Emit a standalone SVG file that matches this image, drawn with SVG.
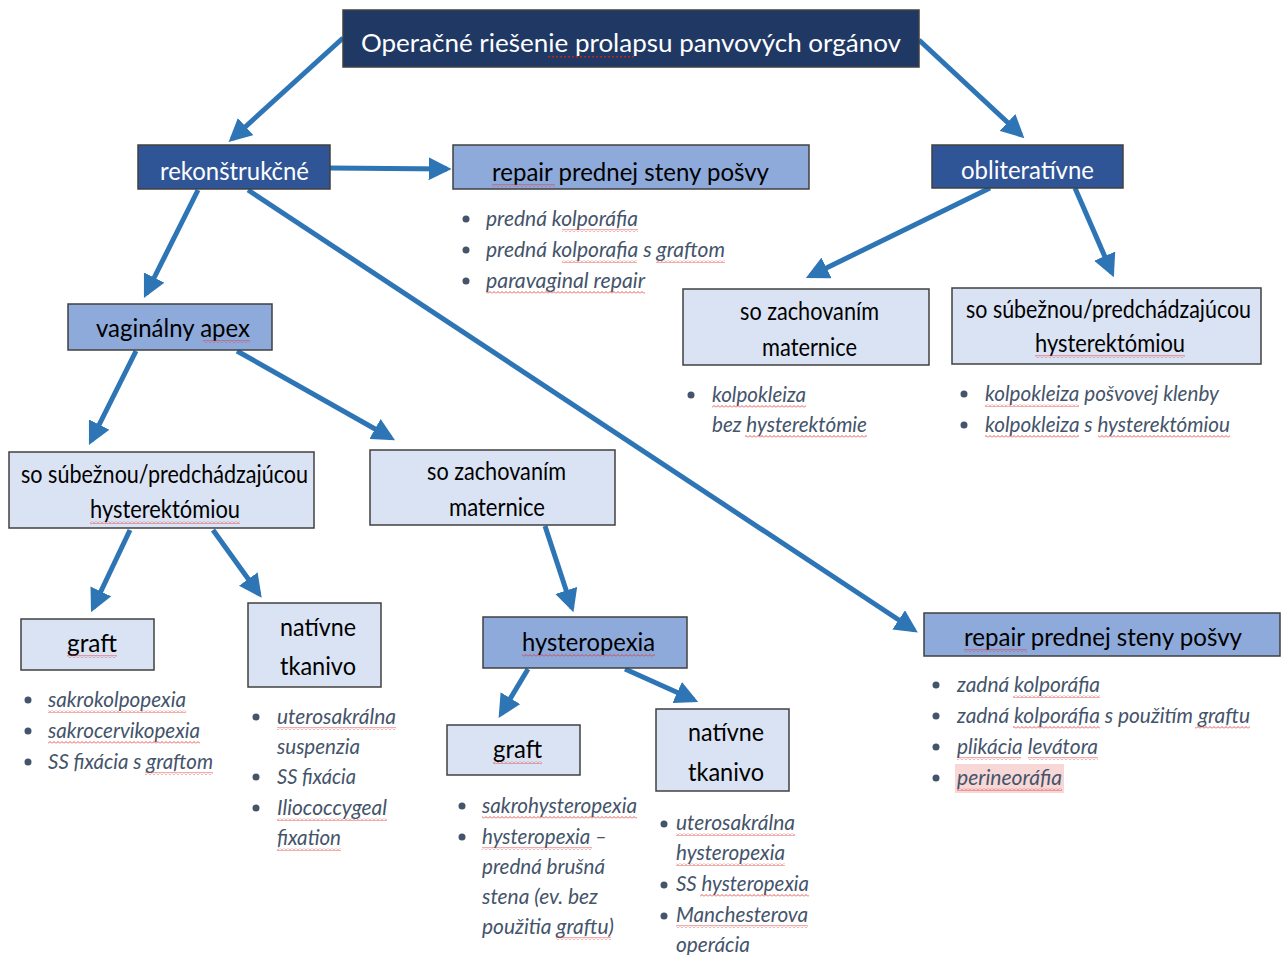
<svg xmlns="http://www.w3.org/2000/svg" width="1281" height="955" viewBox="0 0 1281 955">
<defs>
<marker id="ah" viewBox="0 0 10 10" refX="8" refY="5" markerWidth="4.6" markerHeight="4.6" orient="auto" markerUnits="strokeWidth">
<path d="M0,0 L10,5 L0,10 z" fill="#2e75b6"/>
</marker>
<pattern id="wave" width="4" height="3" patternUnits="userSpaceOnUse">
<path d="M0,2.5 L2,0.5 L4,2.5" fill="none" stroke="#e03030" stroke-width="0.8"/>
</pattern>
<pattern id="dots" width="4" height="2" patternUnits="userSpaceOnUse">
<rect x="0" y="0" width="2" height="1.5" fill="#c02020"/>
</pattern>
</defs>
<style>
.box{stroke:#404040;stroke-width:1.5}
.dark{fill:#1f3864}
.mid{fill:#2f5597}
.blue{fill:#8eaadb}
.light{fill:#dae3f3}
.wt{font-family:Lato,"Open Sans",sans-serif;fill:#ffffff;font-size:25px}
.bt{font-family:Lato,"Open Sans",sans-serif;fill:#000000;font-size:25px}
.it{font-family:Lato,"Open Sans",sans-serif;font-style:italic;fill:#44546a;font-size:20.5px}
.dot{fill:#44546a}
.conn path{fill:none;stroke:#2e75b6;stroke-width:5;marker-end:url(#ah)}
.w{fill:url(#wave)}
</style>
<rect width="1281" height="955" fill="#ffffff"/>

<g id="connectors" class="conn">
<path d="M343,38 L232,139"/>
<path d="M919,40 L1021,135"/>
<path d="M330,168 L447,169"/>
<path d="M198,190 L146,294"/>
<path d="M248,190 L914,630"/>
<path d="M990,188 L810,276"/>
<path d="M1075,188 L1112,273"/>
<path d="M136,351 L91,441"/>
<path d="M237,351 L391,438"/>
<path d="M130,530 L93,608"/>
<path d="M213,530 L259,594"/>
<path d="M545,526 L572,608"/>
<path d="M528,669 L501,714"/>
<path d="M625,669 L694,700"/>
</g>

<g id="n-root">
<rect class="box dark" x="343" y="10" width="576" height="57"/>
<text class="wt" x="361" y="52" font-size="30" textLength="540" lengthAdjust="spacingAndGlyphs">Operačné riešenie prolapsu panvových orgánov</text>
<rect fill="url(#dots)" x="548" y="56" width="88" height="2"/>
</g>

<g id="n-rekon">
<rect class="box mid" x="138" y="145" width="192" height="44"/>
<text class="wt" x="160" y="180" textLength="149" lengthAdjust="spacingAndGlyphs">rekonštrukčné</text>
</g>

<g id="n-repair-top">
<rect class="box blue" x="453" y="145" width="356" height="44"/>
<text class="bt" x="492" y="181" textLength="277" lengthAdjust="spacingAndGlyphs">repair prednej steny pošvy</text>
<rect class="w" x="492" y="184" width="63" height="3"/>
<circle class="dot" cx="466" cy="219" r="3.5"/>
<text class="it" x="486" y="226" textLength="152" lengthAdjust="spacingAndGlyphs">predná kolporáfia</text>
<rect class="w" x="562" y="229" width="76" height="3"/>
<circle class="dot" cx="466" cy="250" r="3.5"/>
<text class="it" x="486" y="257" textLength="239" lengthAdjust="spacingAndGlyphs">predná kolporafia s graftom</text>
<rect class="w" x="562" y="260" width="75" height="3"/>
<rect class="w" x="656" y="260" width="69" height="3"/>
<circle class="dot" cx="466" cy="281" r="3.5"/>
<text class="it" x="486" y="288" textLength="159" lengthAdjust="spacingAndGlyphs">paravaginal repair</text>
<rect class="w" x="486" y="291" width="159" height="3"/>
</g>

<g id="n-oblit">
<rect class="box mid" x="932" y="145" width="191" height="43"/>
<text class="wt" x="961" y="179" textLength="133" lengthAdjust="spacingAndGlyphs">obliteratívne</text>
</g>

<g id="n-apex">
<rect class="box blue" x="68" y="304" width="204" height="46"/>
<text class="bt" x="96" y="337" textLength="154" lengthAdjust="spacingAndGlyphs">vaginálny apex</text>
<rect class="w" x="203" y="340" width="47" height="3"/>
</g>

<g id="n-zach-right">
<rect class="box light" x="683" y="289" width="246" height="76"/>
<text class="bt" x="740" y="320" font-size="23" textLength="139" lengthAdjust="spacingAndGlyphs">so zachovaním</text>
<text class="bt" x="762" y="356" font-size="23" textLength="95" lengthAdjust="spacingAndGlyphs">maternice</text>
<circle class="dot" cx="691" cy="395" r="3.5"/>
<text class="it" x="712" y="402" textLength="94" lengthAdjust="spacingAndGlyphs">kolpokleiza</text>
<rect class="w" x="712" y="405" width="94" height="3"/>
<text class="it" x="712" y="432" textLength="155" lengthAdjust="spacingAndGlyphs">bez hysterektómie</text>
<rect class="w" x="745" y="435" width="122" height="3"/>
</g>

<g id="n-sub-right">
<rect class="box light" x="952" y="288" width="309" height="76"/>
<text class="bt" x="966" y="318" font-size="23" textLength="285" lengthAdjust="spacingAndGlyphs">so súbežnou/predchádzajúcou</text>
<text class="bt" x="1035" y="352" font-size="23" textLength="150" lengthAdjust="spacingAndGlyphs">hysterektómiou</text>
<rect class="w" x="1035" y="355" width="150" height="3"/>
<circle class="dot" cx="964" cy="394" r="3.5"/>
<text class="it" x="985" y="401" textLength="234" lengthAdjust="spacingAndGlyphs">kolpokleiza pošvovej klenby</text>
<rect class="w" x="985" y="404" width="94" height="3"/>
<circle class="dot" cx="964" cy="425" r="3.5"/>
<text class="it" x="985" y="432" textLength="245" lengthAdjust="spacingAndGlyphs">kolpokleiza s hysterektómiou</text>
<rect class="w" x="985" y="435" width="94" height="3"/>
<rect class="w" x="1098" y="435" width="132" height="3"/>
</g>

<g id="n-sub-left">
<rect class="box light" x="9" y="452" width="305" height="76"/>
<text class="bt" x="21" y="483" font-size="23" textLength="287" lengthAdjust="spacingAndGlyphs">so súbežnou/predchádzajúcou</text>
<text class="bt" x="90" y="518" font-size="23" textLength="150" lengthAdjust="spacingAndGlyphs">hysterektómiou</text>
<rect class="w" x="90" y="521" width="150" height="3"/>
</g>

<g id="n-zach-mid">
<rect class="box light" x="370" y="450" width="245" height="75"/>
<text class="bt" x="427" y="480" font-size="23" textLength="139" lengthAdjust="spacingAndGlyphs">so zachovaním</text>
<text class="bt" x="449" y="516" font-size="23" textLength="96" lengthAdjust="spacingAndGlyphs">maternice</text>
</g>

<g id="n-graft-left">
<rect class="box light" x="21" y="619" width="133" height="51"/>
<text class="bt" x="67" y="652" textLength="50" lengthAdjust="spacingAndGlyphs">graft</text>
<rect class="w" x="67" y="655" width="50" height="3"/>
<circle class="dot" cx="28" cy="700" r="3.5"/>
<text class="it" x="48" y="707" textLength="138" lengthAdjust="spacingAndGlyphs">sakrokolpopexia</text>
<rect class="w" x="48" y="710" width="138" height="3"/>
<circle class="dot" cx="28" cy="731" r="3.5"/>
<text class="it" x="48" y="738" textLength="152" lengthAdjust="spacingAndGlyphs">sakrocervikopexia</text>
<rect class="w" x="48" y="741" width="152" height="3"/>
<circle class="dot" cx="28" cy="762" r="3.5"/>
<text class="it" x="48" y="769" textLength="165" lengthAdjust="spacingAndGlyphs">SS fixácia s graftom</text>
<rect class="w" x="145" y="772" width="68" height="3"/>
</g>

<g id="n-nativ-left">
<rect class="box light" x="248" y="603" width="133" height="84"/>
<text class="bt" x="280" y="636" textLength="76" lengthAdjust="spacingAndGlyphs">natívne</text>
<text class="bt" x="280" y="675" textLength="76" lengthAdjust="spacingAndGlyphs">tkanivo</text>
<circle class="dot" cx="256" cy="717" r="3.5"/>
<text class="it" x="277" y="724" textLength="119" lengthAdjust="spacingAndGlyphs">uterosakrálna</text>
<rect class="w" x="277" y="727" width="119" height="3"/>
<text class="it" x="277" y="754" textLength="83" lengthAdjust="spacingAndGlyphs">suspenzia</text>
<circle class="dot" cx="256" cy="777" r="3.5"/>
<text class="it" x="277" y="784" textLength="79" lengthAdjust="spacingAndGlyphs">SS fixácia</text>
<circle class="dot" cx="256" cy="808" r="3.5"/>
<text class="it" x="277" y="815" textLength="110" lengthAdjust="spacingAndGlyphs">Iliococcygeal</text>
<rect class="w" x="277" y="818" width="110" height="3"/>
<text class="it" x="277" y="845" textLength="64" lengthAdjust="spacingAndGlyphs">fixation</text>
<rect class="w" x="277" y="848" width="64" height="3"/>
</g>

<g id="n-hystero">
<rect class="box blue" x="483" y="617" width="204" height="51"/>
<text class="bt" x="522" y="651" textLength="133" lengthAdjust="spacingAndGlyphs">hysteropexia</text>
<rect class="w" x="522" y="654" width="133" height="3"/>
</g>

<g id="n-graft-mid">
<rect class="box light" x="447" y="725" width="133" height="50"/>
<text class="bt" x="493" y="758" textLength="49" lengthAdjust="spacingAndGlyphs">graft</text>
<rect class="w" x="493" y="761" width="49" height="3"/>
<circle class="dot" cx="462" cy="806" r="3.5"/>
<text class="it" x="482" y="813" textLength="155" lengthAdjust="spacingAndGlyphs">sakrohysteropexia</text>
<rect class="w" x="482" y="816" width="155" height="3"/>
<circle class="dot" cx="462" cy="837" r="3.5"/>
<text class="it" x="482" y="844" textLength="125" lengthAdjust="spacingAndGlyphs">hysteropexia –</text>
<rect class="w" x="482" y="847" width="110" height="3"/>
<text class="it" x="482" y="874" textLength="123" lengthAdjust="spacingAndGlyphs">predná brušná</text>
<text class="it" x="482" y="904" textLength="116" lengthAdjust="spacingAndGlyphs">stena (ev. bez</text>
<text class="it" x="482" y="934" textLength="132" lengthAdjust="spacingAndGlyphs">použitia graftu)</text>
<rect class="w" x="556" y="937" width="55" height="3"/>
</g>

<g id="n-nativ-mid">
<rect class="box light" x="656" y="709" width="133" height="82"/>
<text class="bt" x="688" y="741" textLength="76" lengthAdjust="spacingAndGlyphs">natívne</text>
<text class="bt" x="688" y="781" textLength="76" lengthAdjust="spacingAndGlyphs">tkanivo</text>
<circle class="dot" cx="664" cy="824" r="3.5"/>
<text class="it" x="676" y="830" textLength="119" lengthAdjust="spacingAndGlyphs">uterosakrálna</text>
<rect class="w" x="676" y="833" width="119" height="3"/>
<text class="it" x="676" y="860" textLength="109" lengthAdjust="spacingAndGlyphs">hysteropexia</text>
<rect class="w" x="676" y="863" width="109" height="3"/>
<circle class="dot" cx="664" cy="885" r="3.5"/>
<text class="it" x="676" y="891" textLength="133" lengthAdjust="spacingAndGlyphs">SS hysteropexia</text>
<rect class="w" x="700" y="894" width="109" height="3"/>
<circle class="dot" cx="664" cy="916" r="3.5"/>
<text class="it" x="676" y="922" textLength="132" lengthAdjust="spacingAndGlyphs">Manchesterova</text>
<rect class="w" x="676" y="925" width="132" height="3"/>
<text class="it" x="676" y="952" textLength="74" lengthAdjust="spacingAndGlyphs">operácia</text>
</g>

<g id="n-repair-bottom">
<rect class="box blue" x="924" y="613" width="356" height="43"/>
<text class="bt" x="964" y="646" textLength="278" lengthAdjust="spacingAndGlyphs">repair prednej steny pošvy</text>
<rect class="w" x="964" y="649" width="63" height="3"/>
<circle class="dot" cx="936" cy="685" r="3.5"/>
<text class="it" x="957" y="692" textLength="143" lengthAdjust="spacingAndGlyphs">zadná kolporáfia</text>
<rect class="w" x="1013" y="695" width="87" height="3"/>
<circle class="dot" cx="936" cy="716" r="3.5"/>
<text class="it" x="957" y="723" textLength="293" lengthAdjust="spacingAndGlyphs">zadná kolporáfia s použitím graftu</text>
<rect class="w" x="1013" y="726" width="87" height="3"/>
<rect class="w" x="1195" y="726" width="55" height="3"/>
<circle class="dot" cx="936" cy="747" r="3.5"/>
<text class="it" x="957" y="754" textLength="141" lengthAdjust="spacingAndGlyphs">plikácia levátora</text>
<rect class="w" x="957" y="757" width="64" height="3"/>
<rect class="w" x="1028" y="757" width="70" height="3"/>
<rect x="955" y="764" width="109" height="29" fill="#f8d7d7"/>
<circle class="dot" cx="936" cy="778" r="3.5"/>
<text class="it" x="957" y="785" textLength="105" lengthAdjust="spacingAndGlyphs">perineoráfia</text>
<rect class="w" x="957" y="788" width="105" height="3"/>
</g>
</svg>
